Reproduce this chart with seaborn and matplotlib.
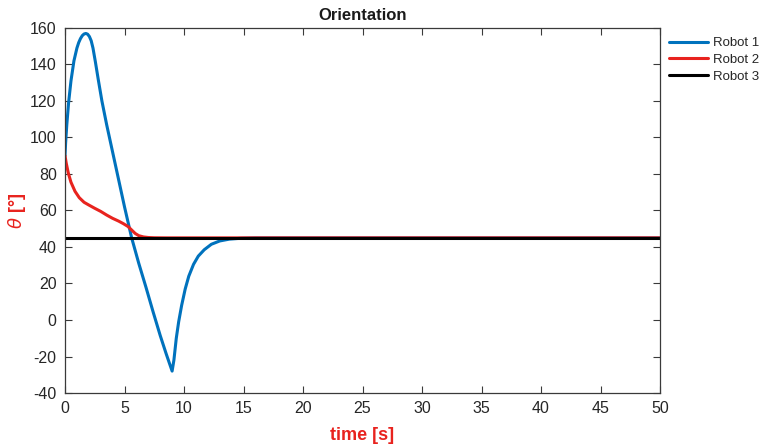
import numpy as np
import pandas as pd
import matplotlib
matplotlib.use("Agg")
import matplotlib.pyplot as plt
import seaborn as sns

# Orientation of each robot over time (degrees)
t_robot1 = [0, 0.05, 0.15, 0.3, 0.5, 0.75, 1.0, 1.15, 1.3, 1.45, 1.6, 1.75, 1.9, 2.05,
            2.2, 2.35, 2.55, 2.8, 3.1, 3.5, 4.0, 4.5, 5.0, 5.6, 6.2, 6.8, 7.4, 8.0,
            8.5, 9.0, 9.15, 9.35, 9.55, 9.8, 10.1, 10.4, 10.8, 11.2, 11.7, 12.3,
            13.0, 13.8, 14.8, 16.0, 18.0, 50.0]
theta_robot1 = [90, 97, 107, 119, 131, 142, 149, 152, 154.2, 155.8, 156.7, 157, 156.6, 155.3,
                153, 149, 141.5, 131.5, 120, 107, 92, 77, 62, 45, 31, 18, 4.5, -8.5,
                -18.5, -28, -22, -10, -1, 8, 17, 24, 30.5, 35, 38.5, 41.5,
                43.3, 44.3, 44.8, 45, 45, 45]

t_robot2 = [0, 0.1, 0.28, 0.5, 0.84, 1.2, 1.6, 2.0, 2.5, 3.0, 3.5, 4.0, 4.5, 4.9,
            5.3, 5.6, 5.9, 6.2, 6.6, 7.0, 7.5, 8.5, 50.0]
theta_robot2 = [90, 86, 80.4, 75.5, 70.5, 67, 64.5, 63, 61.2, 59.5, 57.5, 55.7, 54.2, 52.8,
                51.2, 49.3, 47.4, 46.2, 45.5, 45.2, 45.05, 45, 45]

t_robot3 = [0.0, 50.0]
theta_robot3 = [45, 45]

series_names = ["Robot 1", "Robot 2", "Robot 3"]
series_colors = ["#0072BD", "#E8231E", "#000000"]

frames = []
for name, t, th in zip(series_names,
                       [t_robot1, t_robot2, t_robot3],
                       [theta_robot1, theta_robot2, theta_robot3]):
    frames.append(pd.DataFrame({"time": t, "theta": th, "robot": name}))
df = pd.concat(frames, ignore_index=True)

sns.set_style("white")
plt.rcParams["font.family"] = ["Liberation Sans", "DejaVu Sans"]
plt.rcParams["mathtext.fontset"] = "dejavusans"
plt.rcParams["axes.unicode_minus"] = False

fig = plt.figure(figsize=(7.64, 4.47), dpi=100)
ax = fig.add_axes([0.0851, 0.1208, 0.7788, 0.8166])

sns.lineplot(data=df, x="time", y="theta", hue="robot", hue_order=series_names,
             palette=series_colors, estimator=None, sort=False, linewidth=2.2, ax=ax)

ax.set_xlim(0, 50)
ax.set_ylim(-40, 160)
ax.set_xticks(np.arange(0, 51, 5))
ax.set_yticks(np.arange(-40, 161, 20))

axis_gray = "#3a3a3a"
for side in ["left", "right", "top", "bottom"]:
    ax.spines[side].set_visible(True)
    ax.spines[side].set_color(axis_gray)
    ax.spines[side].set_linewidth(0.9)
ax.tick_params(direction="in", length=5, width=0.8, colors=axis_gray,
               labelcolor="#262626", labelsize=11.5, top=True, right=True,
               bottom=True, left=True, pad=6)

ax.set_title("Orientation", fontsize=12, fontweight="bold", color="#1a1a1a", pad=6)
ax.set_xlabel("time [s]", fontsize=13, fontweight="bold", color="#E8231E", labelpad=8)
ax.set_ylabel(r"$\theta$ [°]", fontsize=13, fontweight="bold", color="#E8231E")
ax.yaxis.set_label_coords(-0.063, 0.5)

leg = ax.legend(loc="upper left", bbox_to_anchor=(1.0, 1.0), frameon=False,
                fontsize=9.5, handlelength=2.9, handletextpad=0.45,
                labelspacing=0.33, borderaxespad=0.3)

fig.savefig("out.png", dpi=100)
